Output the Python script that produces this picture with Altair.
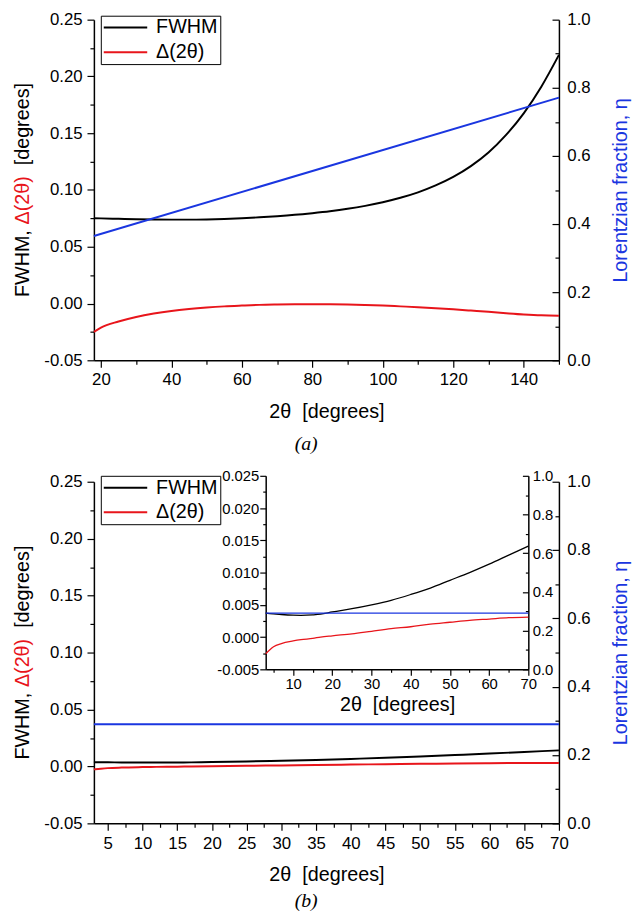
import altair as alt
import pandas as pd

# ---------------- data ----------------
series_names = ["FWHM", "Δ(2θ)"]

# panel (a)
theta_a = [18, 20, 25, 30, 35, 40, 45, 50, 55, 60, 65, 70, 75, 80, 85, 90, 95, 100, 105, 110,
           115, 120, 125, 130, 135, 140, 145, 150]
fwhm_a = [0.0752, 0.0750, 0.0746, 0.0742, 0.0740, 0.0739, 0.0739, 0.0741, 0.0745, 0.0751, 0.0759,
          0.0769, 0.0781, 0.0796, 0.0813, 0.0834, 0.0860, 0.0892, 0.0931, 0.0979, 0.1040, 0.1115,
          0.1210, 0.1330, 0.1485, 0.1675, 0.1910, 0.2190]
delta_a = [-0.0250, -0.0212, -0.0158, -0.0118, -0.0088, -0.0065, -0.0048, -0.0035, -0.0025, -0.0018,
           -0.0012, -0.0009, -0.0007, -0.0006, -0.0007, -0.0009, -0.0013, -0.0018, -0.0025, -0.0032,
           -0.0041, -0.0051, -0.0062, -0.0073, -0.0085, -0.0096, -0.0104, -0.0107]
theta_eta_a = [18, 150]
eta_a = [0.365, 0.771]

# panel (b) and its inset (same curves)
theta_b = [3, 4, 5, 7, 10, 12, 15, 17, 20, 25, 30, 35, 40, 45, 50, 55, 60, 65, 70]
fwhm_b = [0.0037, 0.00365, 0.0036, 0.0035, 0.0034, 0.00338, 0.00345, 0.00355, 0.0039, 0.0044, 0.0050,
          0.0057, 0.0066, 0.0076, 0.0088, 0.0100, 0.0113, 0.0127, 0.0141]
delta_b = [-0.0026, -0.0020, -0.0015, -0.0010, -0.0006, -0.0004, -0.0002, 0.0000, 0.0002, 0.0005, 0.0009,
           0.0013, 0.0016, 0.0020, 0.0023, 0.0026, 0.0028, 0.0030, 0.0031]
theta_eta_b = [3, 70]
eta_b = [0.29, 0.29]

# ---------------- styling ----------------
FONT = "Liberation Sans, Arial, sans-serif"
SERIF = "Liberation Serif, Times New Roman, serif"
BLACK = "#000000"
RED = "#e8151b"
BLUE = "#1a36e0"

W = 471      # plot width (page x 95 -> 566)
H = 814      # whole drawing height (panel a top -> panel b bottom)


def long_df(theta, fwhm, delta):
    rows = []
    for t, f in zip(theta, fwhm):
        rows.append({"theta": t, "value": f, "series": series_names[0]})
    for t, d in zip(theta, delta):
        rows.append({"theta": t, "value": d, "series": series_names[1]})
    return pd.DataFrame(rows)


df_a = long_df(theta_a, fwhm_a, delta_a)
df_b = long_df(theta_b, fwhm_b, delta_b)
df_eta_a = pd.DataFrame({"theta": theta_eta_a, "eta": eta_a})
df_eta_b = pd.DataFrame({"theta": theta_eta_b, "eta": eta_b})


def cond(test, a, b):
    return {"condition": {"test": test, "value": a}, "value": b}


def axis(**kw):
    base = dict(grid=False, domainColor=BLACK, tickColor=BLACK, labelColor=BLACK,
                labelFont=FONT, titleFont=FONT, titleFontWeight="normal", titleColor=BLACK,
                domainWidth=1.5, tickWidth=1.2, labelOverlap=False, labelFlush=False)
    base.update(kw)
    return alt.Axis(**base)


def frange(start, stop, step, nd=6):
    out = []
    v = start
    i = 0
    while v <= stop + 1e-9:
        out.append(round(v, nd))
        i += 1
        v = start + i * step
    return out


color_scale = alt.Scale(domain=series_names, range=[BLACK, RED])


def legend(y):
    return alt.Legend(orient="none", legendX=7, legendY=y, title=None, strokeColor=BLACK,
                      fillColor="white", padding=2, rowPadding=5, clipHeight=20,
                      symbolType="stroke", symbolSize=1936, symbolStrokeWidth=2,
                      labelFont=FONT, labelFontSize=20, labelColor=BLACK, labelOffset=8,
                      labelLimit=0)


def panel(df, df_eta, xdom, xrange_, ytop, ybot, xvals, xmajor, leg_y, xoff, inset=False,
          yl_off=0, yr_off=0, ldom=(-0.05, 0.25), lmaj=50, lmul=1000, lfmt=".2f"):
    xs = alt.Scale(domain=list(xdom), range=list(xrange_), nice=False, zero=False)
    yl = alt.Scale(domain=list(ldom), range=[ybot, ytop], nice=False, zero=False)
    yr = alt.Scale(domain=[0, 1], range=[ybot, ytop], nice=False, zero=False)
    fs = 15 if inset else 17
    tmaj, tmin = (6, 3) if inset else (7, 4)
    sw = 1.3 if inset else 2

    xtest = f"datum.value % {xmajor} === 0"
    x_axis = axis(orient="bottom", offset=xoff, values=xvals,
                  labelExpr=f"{xtest} ? datum.label : ''",
                  tickSize=cond(xtest, tmaj, tmin), labelFontSize=fs,
                  labelPadding=1 if inset else 5,
                  title="2θ\u00a0 [degrees]", titleFontSize=20,
                  titleY=42 if inset else 58, titleBaseline="alphabetic")
    lstep = (ldom[1] - ldom[0]) / 12
    ltest = f"abs(round(datum.value*{lmul})) % {lmaj} === 0"
    yl_axis = axis(orient="left", offset=yl_off, values=frange(ldom[0], ldom[1], lstep, 6),
                   labelExpr=f"{ltest} ? replace(format(datum.value, '{lfmt}'), '\u2212', '-') : ''",
                   tickSize=cond(ltest, tmaj, tmin), labelFontSize=fs,
                   labelPadding=1 if inset else 5, title=None)
    rtest = "abs(round(datum.value*10)) % 2 === 0"
    yr_tick_axis = axis(orient="left", offset=-(xrange_[1]), values=frange(0, 1, 0.1, 3),
                        labels=False, tickSize=cond(rtest, tmaj, tmin), title=None)
    yr_label_axis_kw = dict(orient="right", offset=yr_off, values=frange(0, 1, 0.2, 3),
                            ticks=False, tickSize=0, domain=False, format=".1f",
                            labelFontSize=fs, labelPadding=4 if inset else 8)
    if inset:
        yr_label_axis = axis(title=None, **yr_label_axis_kw)
    else:
        yr_label_axis = axis(title="Lorentzian fraction, η", titleColor=BLUE, titleFontSize=20,
                             titleAngle=270, titleX=62, titleY=(ytop + ybot) / 2,
                             titleBaseline="middle", titleAlign="center", **yr_label_axis_kw)

    lines = alt.Chart(df).mark_line(strokeWidth=sw, interpolate="monotone").encode(
        x=alt.X("theta:Q", scale=xs, axis=x_axis),
        y=alt.Y("value:Q", scale=yl, axis=yl_axis),
        color=alt.Color("series:N", scale=color_scale,
                        legend=None if inset else legend(leg_y)),
    )
    eta_line = alt.Chart(df_eta).mark_line(strokeWidth=sw, color=BLUE).encode(
        x=alt.X("theta:Q", scale=xs, axis=None),
        y=alt.Y("eta:Q", scale=yr, axis=yr_tick_axis),
    )
    eta_labels = alt.Chart(df_eta).mark_line(strokeWidth=sw, color=BLUE, strokeOpacity=0).encode(
        x=alt.X("theta:Q", scale=xs, axis=None),
        y=alt.Y("eta:Q", scale=yr, axis=yr_label_axis),
    )
    return [lines, eta_line, eta_labels]


one = pd.DataFrame({"v": [0]})


def ytitle(center):
    # multi-coloured left axis title, reading bottom-to-top
    start = center + 108.4
    pieces = [("FWHM,", BLACK, start), ("Δ(2θ)", RED, start - 73.4), ("[degrees]", BLACK, start - 133.4)]
    out = []
    for txt, col, y in pieces:
        out.append(alt.Chart(one).mark_text(text=txt, angle=270, align="left", baseline="middle",
                                            font=FONT, fontSize=20, color=col)
                   .encode(x=alt.value(-72), y=alt.value(y)))
    return out


def caption(txt, y):
    return alt.Chart(one).mark_text(text=txt, font=SERIF, fontSize=20, fontStyle="italic",
                                    color=BLACK, align="center", baseline="middle").encode(
        x=alt.value(215), y=alt.value(y))


xvals_a = list(range(20, 151, 10))
xvals_b = frange(5, 70, 2.5, 2)
xvals_i = list(range(5, 71, 5))

layers = []
layers += panel(df_a, df_eta_a, (18, 150), (0, W), 0, 345, xvals_a, 20, -4, xoff=345 - H)
layers += panel(df_b, df_eta_b, (3, 70), (0, W), 468, 814, xvals_b, 5, 462, xoff=0)
layers += panel(df_b, df_eta_b, (3, 70), (174, 440), 462, 658, xvals_i, 10, None, xoff=658 - H,
                inset=True, yl_off=-174, yr_off=-(W - 440), ldom=(-0.005, 0.025), lmaj=50,
                lmul=10000, lfmt=".3f")
layers += ytitle(172.5)
layers += ytitle(641)
layers.append(caption("(a)", 430))
layers.append(caption("(b)", 893))

chart = alt.layer(*layers).resolve_scale(
    x="independent", y="independent", color="independent"
).properties(
    width=W, height=H,
    autosize=alt.AutoSizeParams(type="none"),
    padding={"left": 87, "top": 6, "right": 74, "bottom": 87},
).configure_view(stroke=None)

chart.save("out.html", embed_options={"renderer": "svg", "actions": False})
